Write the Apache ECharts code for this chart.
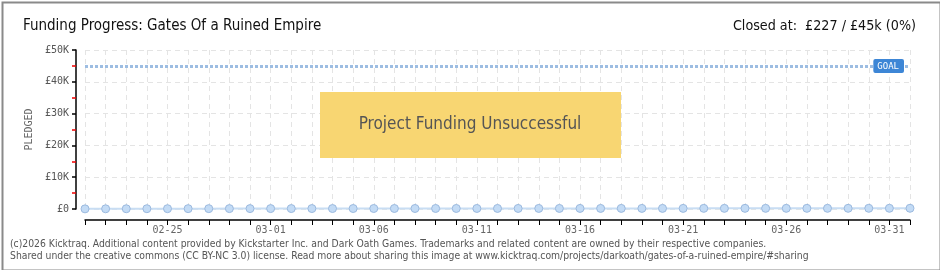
<!DOCTYPE html>
<html><head><meta charset="utf-8">
<script src="https://cdn.jsdelivr.net/npm/echarts@6/dist/echarts.min.js"></script>
<style>html,body{margin:0;padding:0;background:#fff}#c{width:940px;height:270px}</style>
</head><body><div id="c"></div>
<script>
const dates = ['02-21','02-22','02-23','02-24','02-25','02-26','02-27','02-28','02-29','03-01',
'03-02','03-03','03-04','03-05','03-06','03-07','03-08','03-09','03-10','03-11',
'03-12','03-13','03-14','03-15','03-16','03-17','03-18','03-19','03-20','03-21',
'03-22','03-23','03-24','03-25','03-26','03-27','03-28','03-29','03-30','03-31','04-01'];
const pledged = [40,60,75,90,100,110,115,120,125,130,135,140,145,150,155,160,162,165,168,170,
172,175,178,180,182,185,188,190,192,195,198,200,203,205,208,210,213,216,220,224,227];
const goal = 45000;
const yTicks = [0,10000,20000,30000,40000,50000];
const titleText = 'Funding Progress: Gates Of a Ruined Empire';
const statusText = 'Closed at:  £227 / £45k (0%)';
const bannerText = 'Project Funding Unsuccessful';
const footer1 = '(c)2026 Kicktraq. Additional content provided by Kickstarter Inc. and Dark Oath Games. Trademarks and related content are owned by their respective companies.';
const footer2 = 'Shared under the creative commons (CC BY-NC 3.0) license. Read more about sharing this image at www.kicktraq.com/projects/darkoath/gates-of-a-ruined-empire/#sharing';

const FONT = '"DejaVu Sans Condensed",sans-serif';
const MONO = '"DejaVu Sans Mono",monospace';
const chart = echarts.init(document.getElementById('c'));
chart.setOption({
  animation:false,
  textStyle:{fontFamily:FONT},
  title:[
    {text:titleText,left:18,top:14,textStyle:{fontFamily:FONT,fontSize:15,fontWeight:'normal',color:'#111'}},
    {text:statusText,right:19,top:14,textStyle:{fontFamily:FONT,fontSize:14.2,fontWeight:'normal',color:'#111'}}
  ],
  grid:{left:85,right:30,top:50,bottom:61},
  xAxis:{type:'category',data:dates,boundaryGap:false,offset:11,
    axisLine:{onZero:false,lineStyle:{color:'#000',width:1.5}},
    axisTick:{show:true,interval:0,length:5,inside:false,lineStyle:{color:'#000'}},
    axisLabel:{interval:(i)=>(i-4)%5===0 && i>=4,color:'#666',fontSize:10,fontFamily:MONO,margin:5},
    splitLine:{show:true,interval:0,lineStyle:{color:'#e4e4e4',type:[5,4]}}
  },
  yAxis:{type:'value',min:0,max:50000,interval:10000,offset:9,
    name:'PLEDGED',nameLocation:'middle',nameGap:36,nameRotate:90,
    nameTextStyle:{color:'#666',fontSize:10,fontFamily:MONO},
    axisLine:{show:true,onZero:false,lineStyle:{color:'#000',width:1.5}},
    axisTick:{show:true,length:4,lineStyle:{color:'#000',width:1.5}},
    minorTick:{show:true,splitNumber:2,length:4,lineStyle:{color:'#e00',width:1.5}},
    axisLabel:{color:'#555',fontSize:10,fontFamily:MONO,formatter:v=>'£'+(v===0?'0':(v/1000)+'K'),margin:7},
    splitLine:{show:true,lineStyle:{color:'#e4e4e4',type:[5,4]}}
  },
  series:[{
    type:'line',data:pledged,symbol:'circle',symbolSize:8,
    lineStyle:{color:'#c8ddf3',width:2},
    itemStyle:{color:'#c3dbf5',borderColor:'#9bb9de',borderWidth:1},
    markLine:{silent:true,symbol:'none',
      data:[{yAxis:goal}],
      lineStyle:{color:'#9dbde2',type:[3,2],width:3},
      label:{show:true,position:'insideEndTop',formatter:'GOAL',offset:[-6,7],
        backgroundColor:'#3d86d6',color:'#fff',fontSize:9,fontFamily:MONO,
        padding:[3,5,2,4],borderRadius:2,distance:0}
    }
  }],
  graphic:[
    {type:'group',left:320,top:92,z:10,children:[
      {type:'rect',shape:{x:0,y:0,width:301,height:66},style:{fill:'#f8d672'},z:10},
      {type:'text',x:150,y:33,z:11,style:{text:bannerText,textAlign:'center',textVerticalAlign:'middle',fill:'#555',font:'17px '+FONT,
        textShadowColor:'#fff',textShadowOffsetX:1,textShadowOffsetY:1,textShadowBlur:0}}
    ]},
    {type:'text',left:10,top:239,style:{text:footer1,fill:'#555',font:'10.3px "DejaVu Sans Condensed",sans-serif'}},
    {type:'text',left:10,top:251,style:{text:footer2,fill:'#555',font:'10.3px "DejaVu Sans Condensed",sans-serif'}},
    {type:'rect',left:0,top:0,silent:true,shape:{x:1,y:1,width:938,height:268},style:{fill:'none',stroke:'#8a8a8a',lineWidth:2},z:20}
  ]
});
</script></body></html>
